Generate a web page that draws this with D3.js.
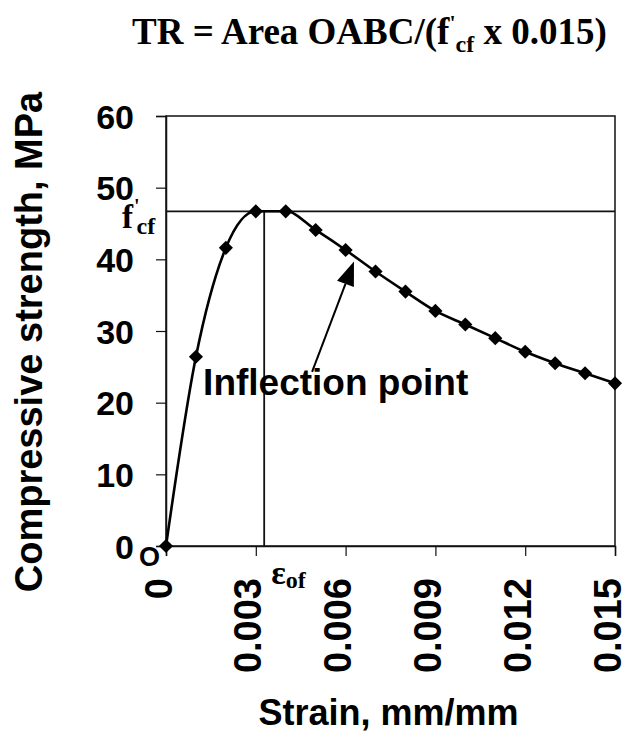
<!DOCTYPE html>
<html>
<head>
<meta charset="utf-8">
<script src="https://cdn.jsdelivr.net/npm/d3@7"></script>
<style>
  body { margin: 0; background: #fff; }
  .sans { font-family: "Liberation Sans", Arial, sans-serif; font-weight: bold; }
  .serif { font-family: "Liberation Serif", "Times New Roman", serif; font-weight: bold; }
</style>
</head>
<body>
<div id="chart"></div>
<script>
// data
var strain = [0, 0.001, 0.002, 0.003, 0.004, 0.005, 0.006, 0.007, 0.008, 0.009, 0.010, 0.011, 0.012, 0.013, 0.014, 0.015];
var stress = [0, 26.4, 41.6, 46.7, 46.7, 44.1, 41.3, 38.3, 35.5, 32.8, 30.9, 29.0, 27.1, 25.5, 24.1, 22.7];

var xTicks = [0, 0.003, 0.006, 0.009, 0.012, 0.015];
var xTickLabels = ["0", "0.003", "0.006", "0.009", "0.012", "0.015"];
var yTicks = [0, 10, 20, 30, 40, 50, 60];

// peak stress f'cf and strain at peak eps_of
var fcf = 46.7;
var epsOf = 0.00328;

// arrow for the annotation (data units)
var arrowFrom = [0.00488, 24.3];
var arrowTo = [0.00628, 39.7];
var noteAt = [0.00124, 21.1];

// margins and svg
var W = 635, H = 740;
var margin = { top: 116, right: 20, bottom: 194, left: 166 };
var width = W - margin.left - margin.right;
var height = H - margin.top - margin.bottom;

var svg = d3.select("#chart")
  .append("svg")
  .attr("width", W)
  .attr("height", H);

var g = svg.append("g")
  .attr("transform", "translate(" + margin.left + "," + margin.top + ")");

var x = d3.scaleLinear().domain([0, 0.015]).range([0, width]);
var y = d3.scaleLinear().domain([0, 60]).range([height, 0]);

// frame
g.append("rect")
  .attr("x", 0).attr("y", 0)
  .attr("width", width).attr("height", height)
  .attr("fill", "none")
  .attr("stroke", "#111")
  .attr("stroke-width", 1.5);

// y axis
var yAxis = d3.axisLeft(y).tickValues(yTicks).tickSize(10).tickFormat(d3.format("d")).tickPadding(22);
var yAxisG = g.append("g").attr("class", "sans").call(yAxis);
yAxisG.select(".domain").attr("stroke", "#111").attr("stroke-width", 1.5);
yAxisG.selectAll(".tick line").attr("stroke", "#111").attr("stroke-width", 1.2);
yAxisG.selectAll("text")
  .attr("fill", "#000")
  .style("font-size", "34px")
  .attr("dy", "0.36em");

// x axis
var xAxis = d3.axisBottom(x).tickValues(xTicks).tickSize(10).tickFormat(function(d, i) { return xTickLabels[i]; });
var xAxisG = g.append("g")
  .attr("class", "sans")
  .attr("transform", "translate(0," + height + ")")
  .call(xAxis);
xAxisG.select(".domain").attr("stroke", "#111").attr("stroke-width", 1.5);
xAxisG.selectAll(".tick line").attr("stroke", "#111").attr("stroke-width", 1.2);
xAxisG.selectAll("text")
  .attr("fill", "#000")
  .style("font-size", "38px")
  .attr("text-anchor", "end")
  .attr("dy", null)
  .attr("y", 0)
  .attr("transform", "translate(5,32) rotate(-90)");

// reference lines for peak
g.append("line")
  .attr("x1", x(0)).attr("x2", x(0.015))
  .attr("y1", y(fcf)).attr("y2", y(fcf))
  .attr("stroke", "#111").attr("stroke-width", 1.8);
g.append("line")
  .attr("x1", x(epsOf)).attr("x2", x(epsOf))
  .attr("y1", y(fcf)).attr("y2", y(0))
  .attr("stroke", "#111").attr("stroke-width", 1.8);

// curve
var pts = strain.map(function(d, i) { return [d, stress[i]]; });
var line = d3.line()
  .x(function(d) { return x(d[0]); })
  .y(function(d) { return y(d[1]); })
  .curve(d3.curveMonotoneX);

g.append("path")
  .datum(pts)
  .attr("d", line)
  .attr("fill", "none")
  .attr("stroke", "#000")
  .attr("stroke-width", 2.6);

// diamond markers
var diamond = d3.symbol().type(d3.symbolSquare).size(100);
g.selectAll(".pt")
  .data(pts)
  .enter()
  .append("path")
  .attr("class", "pt")
  .attr("d", diamond)
  .attr("transform", function(d) { return "translate(" + x(d[0]) + "," + y(d[1]) + ") rotate(45)"; })
  .attr("fill", "#000");

// arrow
var ax1 = x(arrowFrom[0]), ay1 = y(arrowFrom[1]);
var ax2 = x(arrowTo[0]), ay2 = y(arrowTo[1]);
var ang = Math.atan2(ay2 - ay1, ax2 - ax1);
var headLen = 24, headW = 9;
var bx = ax2 - headLen * Math.cos(ang), by = ay2 - headLen * Math.sin(ang);
g.append("line")
  .attr("x1", ax1).attr("y1", ay1)
  .attr("x2", bx).attr("y2", by)
  .attr("stroke", "#000").attr("stroke-width", 2);
g.append("path")
  .attr("d", "M" + ax2 + "," + ay2 +
    "L" + (bx + headW * Math.sin(ang)) + "," + (by - headW * Math.cos(ang)) +
    "L" + (bx - headW * Math.sin(ang)) + "," + (by + headW * Math.cos(ang)) + "Z")
  .attr("fill", "#000");

g.append("text")
  .attr("class", "sans")
  .attr("x", x(noteAt[0]))
  .attr("y", y(noteAt[1]))
  .style("font-size", "37px")
  .text("Inflection point");

// f'cf label
var fl = g.append("text")
  .attr("class", "serif")
  .attr("x", -44)
  .attr("y", y(fcf) + 17)
  .style("font-size", "33px");
fl.append("tspan").text("f");
fl.append("tspan").attr("dy", -15).attr("dx", 1).style("font-size", "20px").text("'");
fl.append("tspan").attr("dy", 21).attr("dx", -3).style("font-size", "24px").text("cf");

// eps_of label
var el = g.append("text")
  .attr("class", "serif")
  .attr("x", x(epsOf) + 7)
  .attr("y", height + 38)
  .style("font-size", "34px");
el.append("tspan").text("ε");
el.append("tspan").attr("dy", 4).style("font-size", "24px").text("of");

// origin label
g.append("text")
  .attr("class", "sans")
  .attr("x", -27)
  .attr("y", height + 20)
  .style("font-size", "27px")
  .text("O");

// axis titles
svg.append("text")
  .attr("class", "sans")
  .attr("transform", "translate(42,342) rotate(-90)")
  .attr("text-anchor", "middle")
  .style("font-size", "38px")
  .text("Compressive strength, MPa");

svg.append("text")
  .attr("class", "sans")
  .attr("x", margin.left + width / 2 - 2)
  .attr("y", 725)
  .attr("text-anchor", "middle")
  .style("font-size", "36px")
  .text("Strain, mm/mm");

// title
var t = svg.append("text")
  .attr("class", "serif")
  .attr("x", 132)
  .attr("y", 44)
  .style("font-size", "37px");
t.append("tspan").text("TR = Area OABC/(f");
t.append("tspan").attr("dy", -14).style("font-size", "22px").text("'");
t.append("tspan").attr("dy", 22).style("font-size", "24px").text("cf");
t.append("tspan").attr("dy", -8).text(" x 0.015)");
</script>
</body>
</html>
